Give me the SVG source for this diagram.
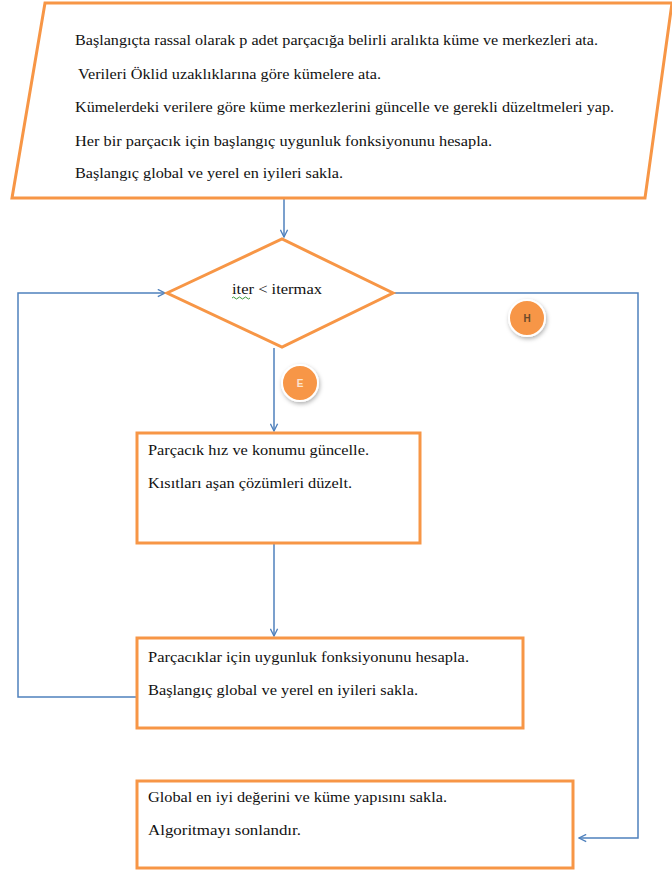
<svg xmlns="http://www.w3.org/2000/svg" width="672" height="874" viewBox="0 0 672 874">
<style>
.shape{fill:#fff;stroke:#F79646;stroke-width:3}
.con{fill:none;stroke:#4F81BD;stroke-width:1.5}
.t{font-family:"Liberation Serif","Times New Roman",serif;font-size:15.5px;fill:#111}
.tp{font-family:"Liberation Serif","Times New Roman",serif;font-size:15px;fill:#111}
.badge{fill:#F79646;stroke:#fff;stroke-width:2}
.bl{font-family:"Liberation Sans",Arial,sans-serif;font-size:10px;font-weight:bold;text-anchor:middle}
</style>
<defs>
<marker id="arr" viewBox="0 0 10 10" refX="9" refY="5" markerWidth="9" markerHeight="9" markerUnits="userSpaceOnUse" orient="auto">
<path d="M1,1 L9,5 L1,9" fill="none" stroke="#4F81BD" stroke-width="1.5"/>
</marker>
<filter id="sh" x="-50%" y="-50%" width="200%" height="200%">
<feDropShadow dx="1" dy="2" stdDeviation="2" flood-color="#000" flood-opacity="0.3"/>
</filter>
</defs>
<rect width="672" height="874" fill="#fff"/>
<g id="connectors">
<path class="con" d="M284,199 L284,237" marker-end="url(#arr)"/>
<path class="con" d="M274,348 L274,431" marker-end="url(#arr)"/>
<path class="con" d="M274,544 L274,636" marker-end="url(#arr)"/>
<path class="con" d="M137,697 L18,697 L18,293 L165,293" marker-end="url(#arr)"/>
<path class="con" d="M393,293 L638,293 L638,838 L579,838" marker-end="url(#arr)"/>
</g>
<g id="init">
<polygon class="shape" points="45,3 672,3 645,198 12,198"/>
<text class="tp" x="75" y="45" textLength="523" lengthAdjust="spacingAndGlyphs">Başlangıçta rassal olarak p adet parçacığa  belirli aralıkta küme ve merkezleri ata.</text>
<text class="tp" x="78" y="79" textLength="303" lengthAdjust="spacingAndGlyphs">Verileri Öklid uzaklıklarına göre kümelere ata.</text>
<text class="tp" x="75" y="112" textLength="539" lengthAdjust="spacingAndGlyphs">Kümelerdeki verilere göre küme merkezlerini güncelle ve gerekli düzeltmeleri yap.</text>
<text class="tp" x="75" y="146" textLength="417" lengthAdjust="spacingAndGlyphs">Her bir parçacık için başlangıç uygunluk fonksiyonunu hesapla.</text>
<text class="tp" x="75" y="178" textLength="268" lengthAdjust="spacingAndGlyphs">Başlangıç global ve yerel en iyileri sakla.</text>
</g>
<g id="decision">
<polygon class="shape" points="167,293 282,239 393,293 282,347"/>
<text class="t" x="232" y="294" textLength="90" lengthAdjust="spacingAndGlyphs">iter &lt; itermax</text>
<path d="M232,298 q1.5,-2 3,0 t3,0 t3,0 t3,0 t3,0 t3,0" fill="none" stroke="#3a9a3a" stroke-width="1"/>
</g>
<g id="badgeE">
<circle class="badge" cx="300" cy="383" r="18" filter="url(#sh)"/>
<text class="bl" x="300" y="387" fill="#FCE4D0">E</text>
</g>
<g id="badgeH">
<circle class="badge" cx="527" cy="318" r="18" filter="url(#sh)"/>
<text class="bl" x="527" y="322" fill="#6b4a2a">H</text>
</g>
<g id="update">
<rect class="shape" x="137" y="433" width="283" height="110"/>
<text class="t" x="148" y="455" textLength="221" lengthAdjust="spacingAndGlyphs">Parçacık hız ve konumu güncelle.</text>
<text class="t" x="148" y="488" textLength="204" lengthAdjust="spacingAndGlyphs">Kısıtları aşan çözümleri düzelt.</text>
</g>
<g id="fitness">
<rect class="shape" x="137" y="638" width="386" height="90"/>
<text class="t" x="148" y="662" textLength="321" lengthAdjust="spacingAndGlyphs">Parçacıklar için uygunluk fonksiyonunu hesapla.</text>
<text class="t" x="148" y="695" textLength="270" lengthAdjust="spacingAndGlyphs">Başlangıç global ve yerel en  iyileri sakla.</text>
</g>
<g id="final">
<rect class="shape" x="137" y="781" width="436" height="87"/>
<text class="t" x="148" y="802" textLength="299" lengthAdjust="spacingAndGlyphs">Global en iyi değerini ve küme yapısını sakla.</text>
<text class="t" x="148" y="835" textLength="153" lengthAdjust="spacingAndGlyphs">Algoritmayı sonlandır.</text>
</g>
</svg>
